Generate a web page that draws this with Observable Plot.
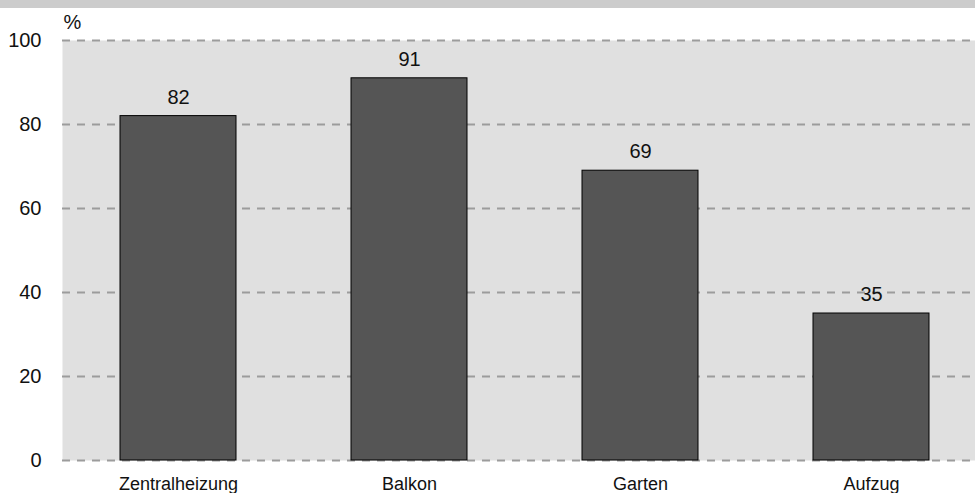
<!DOCTYPE html>
<html>
<head>
<meta charset="utf-8">
<script src="https://cdn.jsdelivr.net/npm/d3@7"></script>
<script src="https://cdn.jsdelivr.net/npm/@observablehq/plot@0.6"></script>
<style>
  html, body { margin: 0; padding: 0; background: #fff; }
  #stripe { height: 8px; background: #cccccc; width: 975px; }
  #chart { width: 975px; }
  #chart svg g[aria-label="y-axis tick label"] text { font-size: 20px; }
</style>
</head>
<body>
<div id="stripe"></div>
<div id="chart"></div>
<script>
const categories = ["Zentralheizung", "Balkon", "Garten", "Aufzug"];
const values = [82, 91, 69, 35];
const yTicks = [0, 20, 40, 60, 80, 100];
const unitLabel = "%";

const data = categories.map((c, i) => ({category: c, value: values[i]}));

const chart = Plot.plot({
  width: 975,
  height: 485,
  marginTop: 32,
  marginBottom: 33,
  marginLeft: 62,
  marginRight: 0,
  style: {fontFamily: "'Liberation Sans', Arial, sans-serif", fontSize: "18px", color: "#111", background: "transparent"},
  x: {domain: categories, range: [62, 986], paddingInner: 0.5, paddingOuter: 0.25, label: null, tickSize: 0, tickPadding: 17},
  y: {domain: [0, 100], ticks: yTicks, label: null, tickSize: 0, tickPadding: 21},
  marks: [
    Plot.frame({fill: "#e0e0e0", stroke: null}),
    Plot.ruleY(yTicks, {stroke: "#9c9c9c", strokeWidth: 2, strokeDasharray: "8,7"}),
    Plot.barY(data, {x: "category", y: "value", fill: "#555555", stroke: "#000", strokeWidth: 1}),
    Plot.axisY({ticks: yTicks, tickSize: 0, tickPadding: 21, fontSize: 20, label: null}),
    Plot.text(data, {x: "category", y: "value", text: d => String(d.value), lineAnchor: "middle", dy: -19, fill: "#111", fontSize: 20}),
    Plot.text([unitLabel], {frameAnchor: "top-left", text: d => d, textAnchor: "start", lineAnchor: "middle", dx: 1, dy: -18, fill: "#111", fontSize: 20})
  ]
});
document.getElementById("chart").appendChild(chart);
</script>
</body>
</html>
